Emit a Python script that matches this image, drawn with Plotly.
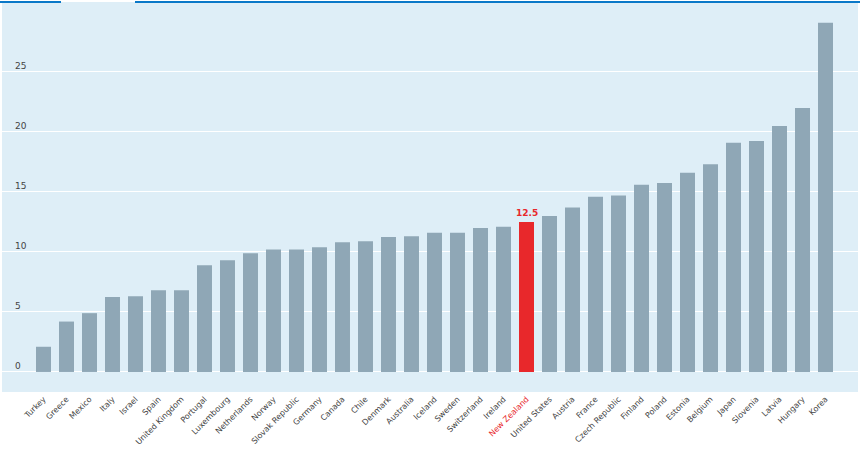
import plotly.graph_objects as go

countries = ["Turkey", "Greece", "Mexico", "Italy", "Israel", "Spain", "United Kingdom",
             "Portugal", "Luxembourg", "Netherlands", "Norway", "Slovak Republic", "Germany",
             "Canada", "Chile", "Denmark", "Australia", "Iceland", "Sweden", "Switzerland",
             "Ireland", "New Zealand", "United States", "Austria", "France", "Czech Republic",
             "Finland", "Poland", "Estonia", "Belgium", "Japan", "Slovenia", "Latvia",
             "Hungary", "Korea"]
values = [2.1, 4.2, 4.9, 6.25, 6.3, 6.8, 6.8, 8.9, 9.3, 9.9, 10.2, 10.2, 10.4, 10.8, 10.9,
          11.25, 11.3, 11.6, 11.6, 12.0, 12.1, 12.5, 13.0, 13.7, 14.6, 14.7, 15.6, 15.75,
          16.6, 17.3, 19.1, 19.25, 20.5, 22.0, 29.1]
highlight = "New Zealand"
y_ticks = [0, 5, 10, 15, 20, 25]

BAR = "#8FA7B6"
RED = "#E8282B"
colors = [RED if c == highlight else BAR for c in countries]
ticktext = [f"<span style='color:{RED}'>{c}</span>" if c == highlight else c for c in countries]

fig = go.Figure(go.Bar(x=countries, y=values, marker_color=colors, marker_line_width=0,
                       width=0.652, hoverinfo="x+y"))

hi = countries.index(highlight)
fig.add_annotation(x=countries[hi], y=values[hi], text=f"<b>{values[hi]}</b>", showarrow=False,
                   yanchor="bottom", yshift=2, font=dict(family="DejaVu Sans", size=9, color=RED))

W = 856
fig.add_shape(type="line", xref="paper", yref="paper", x0=-2 / W, x1=59 / W, y0=1, y1=1,
              line=dict(color="#0A78C8", width=2))
fig.add_shape(type="line", xref="paper", yref="paper", x0=133 / W, x1=858 / W, y0=1, y1=1,
              line=dict(color="#0A78C8", width=2))

fig.update_layout(
    width=860, height=449,
    margin=dict(l=2, r=2, t=2, b=57),
    paper_bgcolor="white", plot_bgcolor="#DEEEF7",
    showlegend=False,
    xaxis=dict(categoryorder="array", categoryarray=countries, tickmode="array",
               tickvals=countries, ticktext=ticktext, tickangle=-45,
               tickfont=dict(family="DejaVu Sans", size=8, color="#444"),
               range=[-1.804, 35.413], showgrid=False, zeroline=False, ticks=""),
    yaxis=dict(range=[-1.67, 30.83], tickvals=y_ticks, ticklabelposition="inside top",
               ticklabelstandoff=10, tickfont=dict(family="DejaVu Sans", size=9, color="#444"),
               gridcolor="white", gridwidth=1, zeroline=True, zerolinecolor="white",
               zerolinewidth=1, ticks=""),
)

fig.write_html("out.html", config={"displayModeBar": False},
               post_script="document.body.style.margin='0';document.body.style.overflow='hidden';")
